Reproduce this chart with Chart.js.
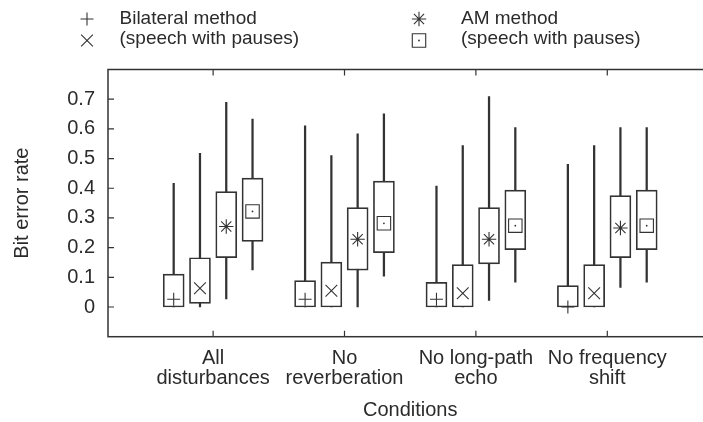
<!DOCTYPE html>
<html>
<head>
<meta charset="utf-8">
<script src="https://cdn.jsdelivr.net/npm/chart.js@4.4.0/dist/chart.umd.min.js"></script>
<style>
  html, body { margin: 0; padding: 0; background: #fff; overflow: hidden; }
  #wrap { width: 723px; height: 422px; }
</style>
</head>
<body>
<div id="wrap"><canvas id="chart"></canvas></div>
<script>
// conditions on the x axis (two-line tick labels)
const CATEGORIES = [
    ['All', 'disturbances'],
    ['No', 'reverberation'],
    ['No long-path', 'echo'],
    ['No frequency', 'shift']
];
const SERIES = [
    'Bilateral method',
    'Bilateral method (speech with pauses)',
    'AM method',
    'AM method (speech with pauses)'
];
const LEGEND_TEXT = ['Bilateral method', '(speech with pauses)', 'AM method', '(speech with pauses)'];
const Y_TICKS = [0, 0.1, 0.2, 0.3, 0.4, 0.5, 0.6, 0.7];

// one row per series, one value per condition
const whiskerLow = [
    [0, 0, 0, 0],
    [0, 0, 0, 0],
    [0.027, 0, 0.022, 0.066],
    [0.125, 0.104, 0.084, 0.084]
];
const boxLow = [
    [0, 0, 0, 0],
    [0.012, 0, 0, 0],
    [0.166, 0.124, 0.145, 0.166],
    [0.221, 0.183, 0.193, 0.193]
];
const marker = [
    [0.026, 0.026, 0.026, 0],
    [0.063, 0.055, 0.046, 0.046],
    [0.271, 0.228, 0.228, 0.266],
    [0.322, 0.282, 0.274, 0.274]
];
const boxHigh = [
    [0.111, 0.089, 0.083, 0.072],
    [0.166, 0.151, 0.143, 0.143],
    [0.389, 0.335, 0.335, 0.375],
    [0.434, 0.424, 0.394, 0.394]
];
const whiskerHigh = [
    [0.417, 0.610, 0.407, 0.481],
    [0.518, 0.510, 0.544, 0.544],
    [0.689, 0.583, 0.709, 0.604],
    [0.633, 0.651, 0.604, 0.604]
];

const INK = '#333';
const TEXT = '#2b2b2b';
const FONT = { family: "'Liberation Sans', Arial, sans-serif", size: 20 };
const SLOT = [-0.3, -0.1, 0.1, 0.3];   // box offset inside a condition
const STYLES = [
    { pointStyle: 'cross', pointRadius: 6.5 },
    { pointStyle: 'crossRot', pointRadius: 8.3 },
    { pointStyle: 'star', pointRadius: 7.2 },
    { pointStyle: 'rect', pointRadius: 9.5 }
];

Chart.defaults.font.family = FONT.family;
Chart.defaults.color = TEXT;

const points = (s, lo, hi) => CATEGORIES.map((_, c) => ({
    x: c + 1 + SLOT[s],
    y: hi ? [lo[s][c], hi[s][c]] : lo[s][c]
}));

const datasets = [];
SERIES.forEach((name, s) => {
    datasets.push({
        type: 'bar', label: name + ' whisker', data: points(s, whiskerLow, whiskerHigh),
        barThickness: 1.6, backgroundColor: INK, borderWidth: 0, grouped: false, order: 3
    });
    datasets.push({
        type: 'bar', label: name + ' box', data: points(s, boxLow, boxHigh),
        barThickness: 21, backgroundColor: '#fff', borderColor: INK, borderWidth: 1.7,
        borderSkipped: false, grouped: false, order: 2
    });
    datasets.push({
        type: 'scatter', label: name, data: points(s, marker), isMarker: true,
        pointStyle: STYLES[s].pointStyle, pointRadius: STYLES[s].pointRadius,
        borderColor: INK, borderWidth: 1.1, backgroundColor: 'rgba(0,0,0,0)', order: 1
    });
});
// centre dot of the boxed marker
datasets.push({
    type: 'scatter', label: SERIES[3] + ' dot', data: points(3, marker),
    pointStyle: 'circle', pointRadius: 0.9, backgroundColor: INK, borderWidth: 0, order: 0
});

const framePlugin = {
    id: 'frame',
    afterDraw(chart) {
        const { ctx, chartArea: a, scales: { x, y } } = chart;
        ctx.save();
        ctx.strokeStyle = INK;
        ctx.lineWidth = 1.5;
        ctx.strokeRect(a.left, a.top, a.right - a.left, a.bottom - a.top);
        ctx.lineWidth = 1.2;
        ctx.beginPath();
        x.ticks.forEach(t => {
            const px = x.getPixelForValue(t.value);
            ctx.moveTo(px, a.bottom); ctx.lineTo(px, a.bottom - 6);
            ctx.moveTo(px, a.top); ctx.lineTo(px, a.top + 6);
        });
        y.ticks.forEach(t => {
            const py = y.getPixelForValue(t.value);
            ctx.moveTo(a.left, py); ctx.lineTo(a.left + 6, py);
            ctx.moveTo(a.right, py); ctx.lineTo(a.right - 6, py);
        });
        ctx.stroke();
        ctx.restore();
    }
};

// two-column key above the plot
const keyPlugin = {
    id: 'key',
    afterDraw(chart) {
        const ctx = chart.ctx;
        const symX = [87, 419], txtX = [119.5, 461], symY = [19, 40.5], txtY = [18.5, 38.5];
        const marks = chart.data.datasets.filter(d => d.isMarker);
        ctx.save();
        marks.forEach((d, i) => {
            const col = Math.floor(i / 2), row = i % 2;
            ctx.strokeStyle = INK;
            ctx.fillStyle = 'rgba(0,0,0,0)';
            ctx.lineWidth = d.borderWidth;
            Chart.helpers.drawPoint(ctx, {
                pointStyle: d.pointStyle, radius: d.pointRadius, rotation: 0, borderWidth: d.borderWidth
            }, symX[col], symY[row]);
            if (d.pointStyle === 'rect') {
                ctx.fillStyle = INK;
                ctx.beginPath();
                ctx.arc(symX[col], symY[row], 0.9, 0, Math.PI * 2);
                ctx.fill();
            }
            ctx.fillStyle = TEXT;
            ctx.font = '19px ' + FONT.family;
            ctx.textAlign = 'left';
            ctx.textBaseline = 'middle';
            ctx.fillText(LEGEND_TEXT[i], txtX[col], txtY[row]);
        });
        ctx.restore();
    }
};

new Chart(document.getElementById('chart'), {
    type: 'bar',
    data: { datasets: datasets },
    options: {
        responsive: true,
        maintainAspectRatio: false,
        animation: false,
        events: [],
        layout: { padding: { top: 69.5, right: 3.6, left: 0, bottom: 0 } },
        plugins: { legend: { display: false }, tooltip: { enabled: false } },
        scales: {
            x: {
                type: 'linear', min: 0.2, max: 4.8, offset: false,
                afterBuildTicks: s => { s.ticks = CATEGORIES.map((_, i) => ({ value: i + 1 })); },
                afterFit: s => { s.height = 85.3; },
                ticks: {
                    callback: v => CATEGORIES[Math.round(v) - 1],
                    autoSkip: false, maxRotation: 0, minRotation: 0, padding: 11.3,
                    font: { size: FONT.size, lineHeight: 1.03 }, color: TEXT
                },
                grid: { display: false, drawTicks: false },
                border: { display: false },
                title: {
                    display: true, text: 'Conditions', color: TEXT,
                    font: { size: FONT.size }, padding: { top: 0, bottom: 0 }
                }
            },
            y: {
                type: 'linear', min: -0.1, max: 0.8,
                afterBuildTicks: s => { s.ticks = Y_TICKS.map(v => ({ value: v })); },
                afterFit: s => { s.width = 108; },
                ticks: {
                    callback: v => v === 0 ? '0' : v.toFixed(1),
                    padding: 13, font: { size: FONT.size }, color: TEXT
                },
                grid: { display: false, drawTicks: false },
                border: { display: false },
                title: {
                    display: true, text: 'Bit error rate', color: TEXT,
                    font: { size: FONT.size }, padding: { top: 10.5, bottom: 0 }
                }
            }
        }
    },
    plugins: [framePlugin, keyPlugin]
});
</script>
</body>
</html>
